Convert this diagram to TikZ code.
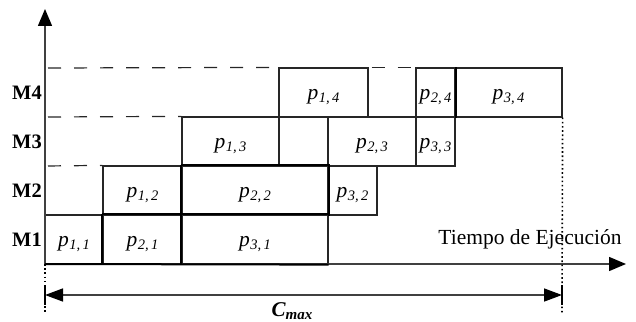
\documentclass[tikz,border=0pt]{standalone}
\usepackage{fontspec}
\setmainfont{Liberation Serif}
\usetikzlibrary{arrows.meta}

% operation label p_{i,j}
\newcommand{\pjob}[2]{\textit{p}\kern0.5pt\raisebox{-3pt}{\fontsize{14.5}{15}\selectfont\itshape #1,\kern2.5pt#2}}

\begin{document}
\begin{tikzpicture}[x=1pt,y=-1pt,
  thinline/.style={line width=1.2pt, draw=black!85},
  critline/.style={line width=2pt, draw=black},
  jobbox/.style={thinline, rectangle, inner sep=0pt, minimum height=49pt,
    text height=14pt, text depth=0pt,
    font=\fontsize{21.5}{24}\selectfont},
  machine/.style={anchor=east, inner sep=0pt, font=\fontsize{20.5}{22}\selectfont\bfseries},
  axisline/.style={line width=1.5pt, draw=black!75},
  bigtip/.style={-{Triangle[length=17pt,width=14pt,color=black]}},
  guide/.style={line width=1.2pt, draw=black!85, dash pattern=on 13pt off 13pt, dash phase=-3pt},
  dotline/.style={line width=1.6pt, draw=black, dash pattern=on 1.6pt off 2.6pt}
]
\useasboundingbox (0,0) rectangle (636,321);

% axis anchor points
\coordinate (O) at (45,264);
\coordinate (ytop) at (45,9);
\coordinate (xend) at (626,264);
\coordinate (m4t) at (45,68);
\coordinate (m3t) at (45,117);
\coordinate (m2t) at (45,166);

% operations, row by row (M1 at the bottom)
\node[jobbox, minimum width=58pt]  (p11) at (74,239.5)    {\pjob{1}{1}};
\node[jobbox, minimum width=79pt]  (p21) at (142.5,239.5) {\pjob{2}{1}};
\node[jobbox, minimum width=146pt] (p31) at (255,239.5)   {\pjob{3}{1}};

\node[jobbox, minimum width=79pt]  (p12) at (142.5,190.5) {\pjob{1}{2}};
\node[jobbox, minimum width=146pt] (p22) at (255,190.5)   {\pjob{2}{2}};
\node[jobbox, minimum width=49pt]  (p32) at (352.5,190.5) {\pjob{3}{2}};

\node[jobbox, minimum width=97pt]  (p13) at (230.5,141.5) {\pjob{1}{3}};
\node[jobbox, minimum width=88pt]  (p23) at (372,141.5)   {\pjob{2}{3}};
\node[jobbox, minimum width=39pt]  (p33) at (435.5,141.5) {\pjob{3}{3}};

\node[jobbox, minimum width=89pt]  (p14) at (323.5,92.5)  {\pjob{1}{4}};
\node[jobbox, minimum width=39pt]  (p24) at (435.5,92.5)  {\pjob{2}{4}};
\node[jobbox, minimum width=107pt] (p34) at (508.5,92.5)  {\pjob{3}{4}};

% machine labels
\node[machine] (M4) at (42,92.5)  {M4};
\node[machine] (M3) at (42,141.5) {M3};
\node[machine] (M2) at (42,190.5) {M2};
\node[machine] (M1) at (42,239.5) {M1};

% dashed row guides
\draw[guide] (m4t) -- (p14.north west);
\draw[guide] (p14.north east) -- (p24.north west);
\draw[guide] (m3t) -- (p13.north west);
\draw[guide] (m2t) -- (p12.north west);

% axes
\draw[axisline, bigtip] (O) -- (ytop);
\draw[axisline, bigtip] (O) -- (xend);
\node[anchor=base, inner sep=0pt, font=\fontsize{21.5}{24}\selectfont] (tlabel) at (530,244) {Tiempo de Ejecución};

% emphasised borders
\draw[critline] (p21.south west) -- (p21.north west);
\draw[critline] (p22.north west) -- (p31.south west);
\draw[critline] (p21.north west) -- (p31.north east);
\draw[critline] (p22.north west) -- (p22.north east) -- (p22.south east);
\draw[critline] (O) -- (p31.south east);
\draw[critline] (p24.north east) -- (p24.south east);

% makespan
\coordinate (cl) at (45,295);
\coordinate (cr) at (562,295);
\coordinate (dl) at (45,313);
\coordinate (dr) at (562,313);
\draw[dotline] (O) -- (dl);
\draw[dotline] (p34.south east) -- (dr);
\draw[line width=1.3pt] (45,285) -- (45,305) (562,285) -- (562,305);
\draw[axisline, {Triangle[length=18pt,width=13pt,color=black]}-{Triangle[length=18pt,width=13pt,color=black]}] (cl) -- (cr);
\node[anchor=base, inner sep=0pt, font=\fontsize{21}{24}\selectfont\bfseries\itshape] (cmax) at (292,316) {C\raisebox{-3pt}{\fontsize{15}{15}\selectfont\bfseries\itshape max}};
\end{tikzpicture}
\end{document}
